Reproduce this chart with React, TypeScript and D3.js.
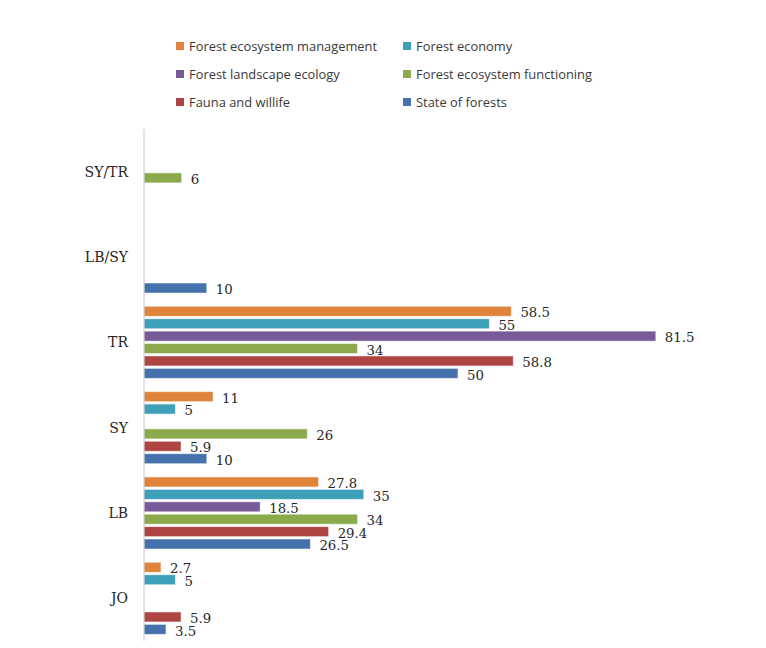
import React from 'react';
import * as d3 from 'd3';

const categories = ['SY/TR', 'LB/SY', 'TR', 'SY', 'LB', 'JO'];

const seriesNames = [
    'Forest ecosystem management',
    'Forest economy',
    'Forest landscape ecology',
    'Forest ecosystem functioning',
    'Fauna and willife',
    'State of forests',
];

const seriesColors = ['#E0843C', '#3E9FB8', '#775A98', '#8AAA4B', '#AF4543', '#4572AC'];

// values per category, in the order of `categories`
const forestEcosystemManagement = [null, null, 58.5, 11, 27.8, 2.7];
const forestEconomy = [null, null, 55, 5, 35, 5];
const forestLandscapeEcology = [null, null, 81.5, null, 18.5, null];
const forestEcosystemFunctioning = [6, null, 34, 26, 34, null];
const faunaAndWillife = [null, null, 58.8, 5.9, 29.4, 5.9];
const stateOfForests = [null, 10, 50, 10, 26.5, 3.5];

const seriesValues: (number | null)[][] = [
    forestEcosystemManagement,
    forestEconomy,
    forestLandscapeEcology,
    forestEcosystemFunctioning,
    faunaAndWillife,
    stateOfForests,
];

const width = 766;
const height = 648;

export default function App() {
    React.useEffect(() => {
        document.body.style.margin = '0';
    }, []);

    const x = d3.scaleLinear().domain([0, 90]).range([144, 144 + 90 * 6.28]);

    const y = d3.scaleBand<string>()
        .domain(categories)
        .range([129, 641])
        .paddingInner(0.155)
        .paddingOuter(0.0775);

    const ySeries = d3.scaleBand<string>()
        .domain(seriesNames)
        .range([0, y.bandwidth()])
        .paddingInner(0.19);

    const legendRows = d3.range(3);

    return (
        <svg width={width} height={height} style={{ display: 'block', background: '#fff' }}>
            {/* legend */}
            <g fontFamily="'Open Sans', sans-serif" fontSize={12.9} fill="#3a3a3a">
                {seriesNames.map((name, i) => {
                    const col = i % 2;
                    const row = legendRows[Math.floor(i / 2)];
                    const lx = col === 0 ? 176 : 403;
                    const ly = 46 + row * 28;
                    return (
                        <g key={name}>
                            <rect x={lx} y={ly - 4} width={8} height={8} fill={seriesColors[i]} />
                            <text x={lx + 13} y={ly} dy="0.35em">{name}</text>
                        </g>
                    );
                })}
            </g>

            {/* bars */}
            {categories.map((cat, ci) => (
                <g key={cat} transform={`translate(0,${y(cat)})`}>
                    {seriesNames.map((name, si) => {
                        const v = seriesValues[si][ci];
                        if (v === null) return null;
                        const by = ySeries(name) ?? 0;
                        return (
                            <g key={name}>
                                <rect
                                    x={x(0)}
                                    y={by}
                                    width={x(v) - x(0)}
                                    height={ySeries.bandwidth()}
                                    fill={seriesColors[si]}
                                    stroke="#fff"
                                    strokeOpacity={0.55}
                                    strokeWidth={1}
                                />
                                <text
                                    x={x(v) + 9}
                                    y={by + ySeries.bandwidth() / 2 + 1.5}
                                    dy="0.35em"
                                    fontFamily="'DejaVu Serif', serif"
                                    fontSize={13.3}
                                    fill="#262626"
                                >
                                    {v}
                                </text>
                            </g>
                        );
                    })}
                </g>
            ))}

            {/* category axis */}
            <line x1={x(0)} x2={x(0)} y1={129} y2={641} stroke="#C8C8C8" strokeWidth={1} />
            {categories.map(cat => (
                <text
                    key={cat}
                    x={128}
                    y={(y(cat) ?? 0) + y.bandwidth() / 2}
                    dy="0.35em"
                    textAnchor="end"
                    fontFamily="'DejaVu Serif', serif"
                    fontSize={14}
                    fill="#262626"
                >
                    {cat}
                </text>
            ))}
        </svg>
    );
}
